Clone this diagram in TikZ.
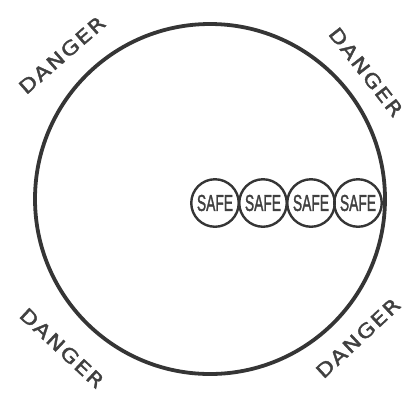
\documentclass[tikz,border=0pt]{standalone}
\usepackage{fontspec}
\usepackage{graphicx}
\setmainfont{DejaVu Sans}
\newfontfamily\dangerfont[LetterSpace=8,FakeBold=1.8]{DejaVu Sans}
\newfontfamily\safefont[FakeBold=2]{Liberation Sans}
\definecolor{kalem}{HTML}{353535}
\definecolor{yazi}{HTML}{404040}
\newcommand{\dar}[1]{\scalebox{0.6}[1]{#1}}
\newcommand{\genis}[1]{\scalebox{1.2}[1]{#1}}

\begin{document}
\begin{tikzpicture}[x=1pt,y=-1pt,
  alanstil/.style={circle,draw=kalem,line width=3.8pt,minimum size=350pt,inner sep=0pt},
  guvenli/.style={circle,draw=kalem,line width=2.4pt,minimum size=47.5pt,inner sep=0pt,
    text=yazi,font=\safefont\fontsize{23}{23}\selectfont},
  tehlike/.style={text=yazi,inner sep=0pt,font=\dangerfont\fontsize{19}{19}\selectfont}]
\useasboundingbox (0,0) rectangle (414,400);
% buyuk daire
\node[alanstil] (alan) at (210,199) {};
% guvenli halkalar
\foreach \i/\x in {1/215,2/263,3/311,4/358}
  \node[guvenli] (safe\i) at (\x,203) {\dar{SAFE}};
% tehlike yazilari
\node[tehlike,rotate=41] (dangerTL) at (62,55) {\genis{DANGER}};
\node[tehlike,rotate=-52] (dangerTR) at (366,72) {\genis{DANGER}};
\node[tehlike,rotate=-43] (dangerBL) at (62,348) {\genis{DANGER}};
\node[tehlike,rotate=43] (dangerBR) at (358,338) {\genis{DANGER}};
\end{tikzpicture}
\end{document}
